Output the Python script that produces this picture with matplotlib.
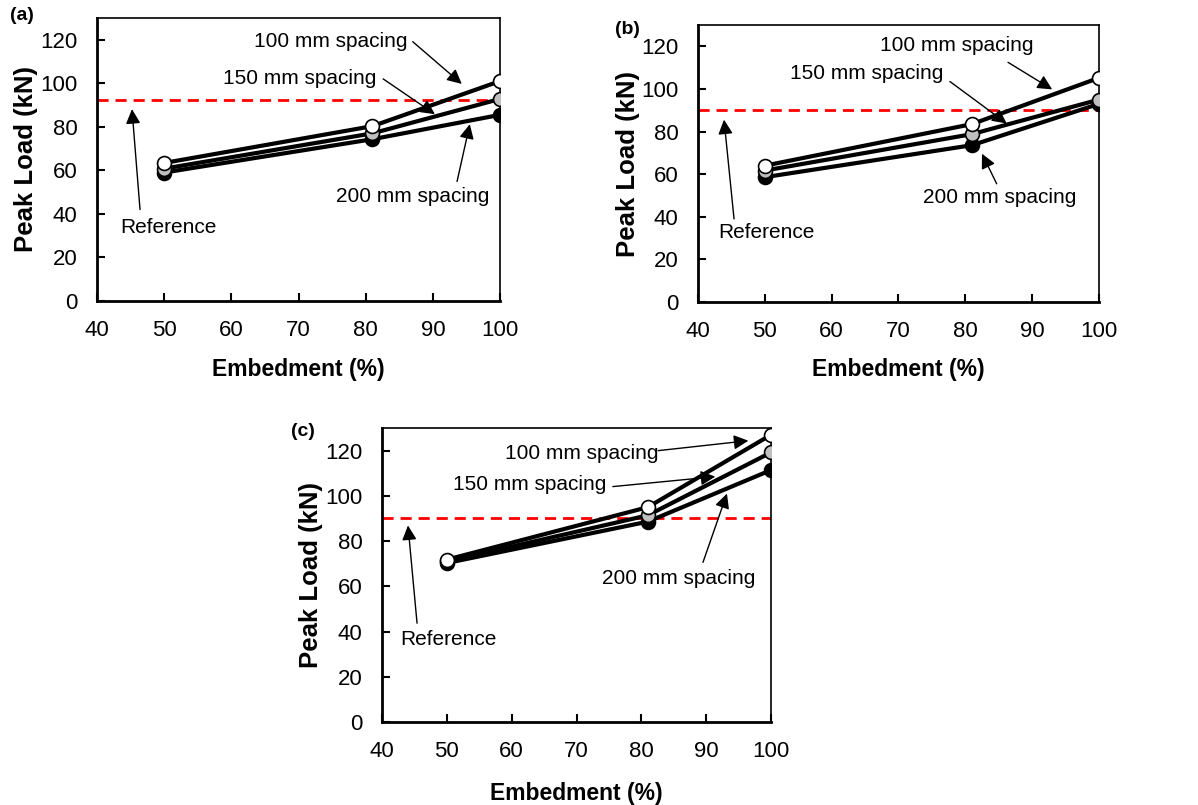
import numpy as np
import matplotlib
matplotlib.use("Agg")
import matplotlib.pyplot as plt

plt.rcParams['font.family'] = ['Liberation Sans', 'DejaVu Sans']

embed = [50, 81, 100]

# panel (a)
a_100 = [63.4, 80.3, 101]
a_150 = [60.8, 77, 92.8]
a_200 = [59, 74.3, 85.5]
a_ref = 92.4

# panel (b)
b_100 = [64, 83.5, 105.2]
b_150 = [61.7, 78.8, 95]
b_200 = [58.6, 73.6, 93]
b_ref = 90.2

# panel (c)
c_100 = [71.8, 95, 127]
c_150 = [71, 91.4, 119.2]
c_200 = [70.3, 88.6, 111.4]
c_ref = 90.3

xticks = [40, 50, 60, 70, 80, 90, 100]
yticks = [0, 20, 40, 60, 80, 100, 120]

fig = plt.figure(figsize=(11.98, 8.05), dpi=100)


def panel(rect, s100, s150, s200, ref, tag, tagpos, notes, xlab_y, ylab_x):
    ax = fig.add_axes(rect)
    ax.axhline(ref, color='#ff0000', lw=2, ls=(0, (4, 2.5)), zorder=1)
    ax.plot(embed, s200, '-o', color='black', lw=3, ms=10,
            mfc='black', mec='black', mew=1.2, zorder=3)
    ax.plot(embed, s150, '-o', color='black', lw=3, ms=10,
            mfc='#bfbfbf', mec='black', mew=1.2, zorder=4)
    ax.plot(embed, s100, '-o', color='black', lw=3, ms=10,
            mfc='white', mec='black', mew=1.2, zorder=5)
    ax.set_xlim(40, 100)
    ax.set_ylim(0, 130)
    ax.set_xticks(xticks)
    ax.set_yticks(yticks)
    ax.tick_params(direction='in', length=6, width=1.5, labelsize=16, pad=14)
    ax.spines['left'].set_linewidth(2)
    ax.spines['bottom'].set_linewidth(2)
    ax.spines['top'].set_linewidth(1.2)
    ax.spines['right'].set_linewidth(1.2)
    ax.set_xlabel('Embedment (%)', fontsize=16.5, fontweight='bold')
    ax.set_ylabel('Peak Load (kN)', fontsize=18.5, fontweight='bold')
    ax.xaxis.set_label_coords(0.5, xlab_y)
    ax.yaxis.set_label_coords(ylab_x, 0.5)
    for txt, tpos, tail, head, box in notes:
        kw = {}
        if box:
            kw['bbox'] = dict(facecolor='white', edgecolor='none', pad=1)
        ax.text(tpos[0], tpos[1], txt, fontsize=15, ha='center', va='center',
                zorder=6, **kw)
        ax.annotate('', xy=head, xytext=tail,
                    arrowprops=dict(arrowstyle='-|>', color='black', lw=1,
                                    mutation_scale=22, shrinkA=0, shrinkB=0),
                    zorder=6)
    fig.text(tagpos[0] / 1198, 1 - tagpos[1] / 805, tag, fontsize=14,
             fontweight='bold', ha='center', va='center')
    return ax


panel([0.081, 0.6261, 0.3364, 0.3516], a_100, a_150, a_200, a_ref, '(a)', (22, 16),
      [('100 mm spacing', (74.8, 119), (87.0, 119.1), (94.3, 99.7), False),
       ('150 mm spacing', (70.2, 102.4), (82.6, 102), (90.3, 85.8), False),
       ('200 mm spacing', (87.0, 48), (93.6, 54.9), (95.5, 81.2), True),
       ('Reference', (50.6, 33.7), (46.4, 42), (45.2, 88.1), False)],
      -0.20, -0.146)

panel([0.5826, 0.6248, 0.3347, 0.3441], b_100, b_150, b_200, b_ref, '(b)', (627, 30),
      [('100 mm spacing', (78.8, 120.5), (86.4, 112.5), (93.0, 99.8), False),
       ('150 mm spacing', (65.3, 107.3), (77.7, 103.5), (86.2, 83.8), False),
       ('200 mm spacing', (85.2, 48.9), (84.7, 55.5), (82.5, 69.6), True),
       ('Reference', (50.3, 32.5), (45.4, 39), (43.9, 85.6), False)],
      -0.202, -0.145)

panel([0.3189, 0.1031, 0.3247, 0.3652], c_100, c_150, c_200, c_ref, '(c)', (303, 432),
      [('100 mm spacing', (70.8, 118.7), (82.6, 120), (96.5, 124.4), False),
       ('150 mm spacing', (62.7, 105), (75.6, 104.1), (91.4, 108.5), False),
       ('200 mm spacing', (85.7, 63.5), (89.5, 70.6), (93.2, 101), True),
       ('Reference', (50.3, 36.6), (45.4, 43.7), (44.0, 86.9), False)],
      -0.204, -0.152)

fig.savefig('out.png', dpi=100)
